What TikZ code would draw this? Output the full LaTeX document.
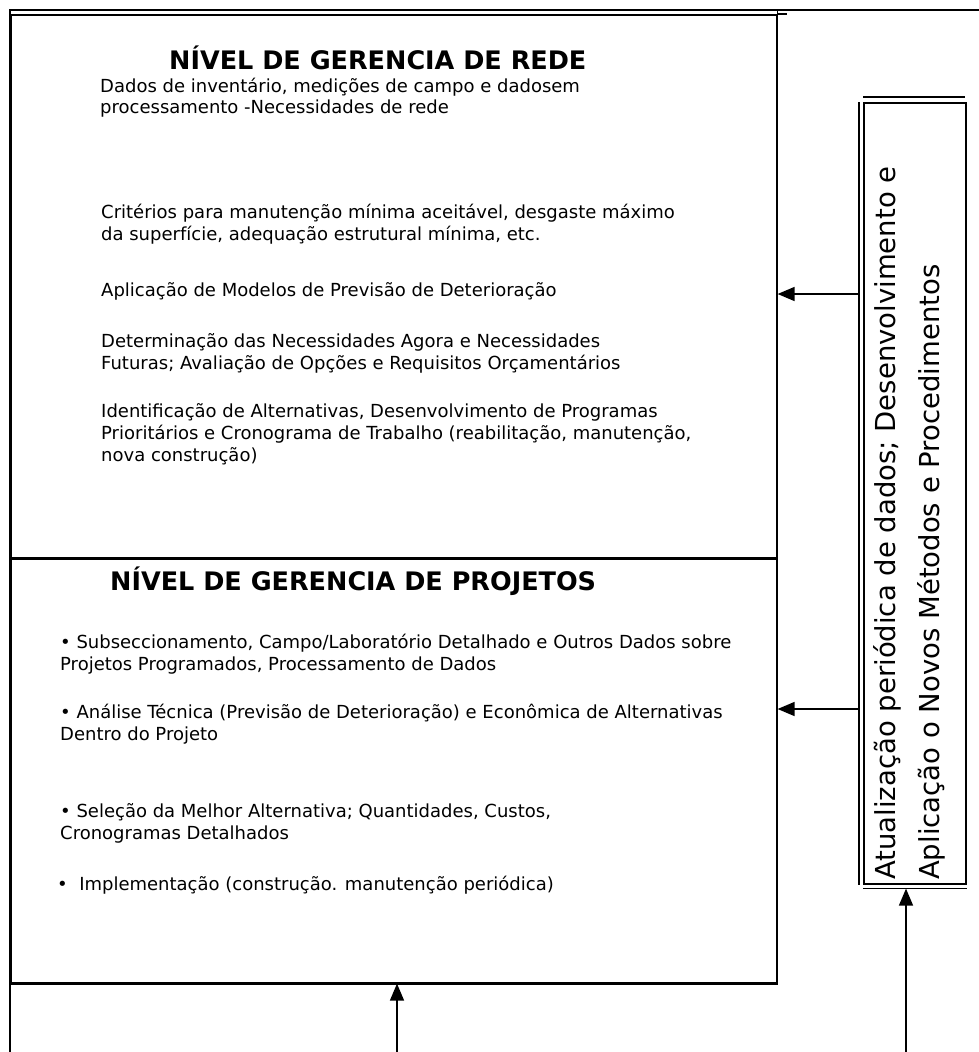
\documentclass[tikz,border=0pt]{standalone}
\usepackage{fontspec}
\setmainfont{DejaVu Sans}
\usetikzlibrary{arrows.meta,positioning}
\tikzset{
	frame/.style={draw, line width=1.6pt, inner sep=0pt, anchor=north west},
	arr/.style={line width=1.5pt, -{Triangle[length=17pt,width=14pt]}},
	heading/.style={font=\fontsize{25.5}{30}\selectfont\bfseries, anchor=west, inner sep=0pt},
	body/.style={font=\fontsize{18}{22}\selectfont, align=left, anchor=north west, inner sep=0pt},
	vtext/.style={rotate=90, anchor=north west, align=left, inner sep=0pt, font=\fontsize{27.5}{44}\selectfont}
}
\begin{document}
\begin{tikzpicture}[x=1pt,y=-1pt]
		\useasboundingbox (0,0) rectangle (979,1052);
		
		%Outer frame
		\draw[line width=1.6pt] (979,10) -- (10,10) -- (10,1052);
		
		%Network level
		\node[frame, minimum width=766pt, minimum height=544pt] (rede) at (10,14) {};
		\draw[line width=1.6pt] (rede.north east) -- ++(0,-4);
		\draw[line width=1.6pt] (rede.north east) -- ++(9,0);
		\node[heading] (t1) at (169,58) {NÍVEL DE GERENCIA DE REDE};
		\node[body, font=\fontsize{18}{21}\selectfont] (d1) at (100,78) {Dados de inventário, medições de campo e dadosem\\processamento -Necessidades de rede};
		\node[body] (d2) at (101,204) {Critérios para manutenção mínima aceitável, desgaste máximo\\da superfície, adequação estrutural mínima, etc.};
		\node[body] (d3) at (101,282) {Aplicação de Modelos de Previsão de Deterioração};
		\node[body] (d4) at (101,333) {Determinação das Necessidades Agora e Necessidades\\Futuras; Avaliação de Opções e Requisitos Orçamentários};
		\node[body] (d5) at (101,403) {Identificação de Alternativas, Desenvolvimento de Programas\\Prioritários e Cronograma de Trabalho (reabilitação, manutenção,\\nova construção)};
		
		%Project level
		\node[frame, minimum width=766pt, minimum height=424pt] (proj) at (10,558) {};
		\draw[line width=2.6pt] (proj.north west) -- (proj.north east);
		\draw[line width=2.6pt] (proj.south west) -- (proj.south east);
		\node[heading] (t2) at (110,581) {NÍVEL DE GERENCIA DE PROJETOS};
		\node[body] (p1) at (60,634) {• Subseccionamento, Campo/Laboratório Detalhado e Outros Dados sobre\\Projetos Programados, Processamento de Dados};
		\node[body] (p2) at (60,704) {• Análise Técnica (Previsão de Deterioração) e Econômica de Alternativas\\Dentro do Projeto};
		\node[body] (p3) at (60,803) {• Seleção da Melhor Alternativa; Quantidades, Custos,\\Cronogramas Detalhados};
		\node[body] (p4) at (57,876) {•\ \ Implementação (construção. manutenção periódica)};
		
		%Update box
		\node[frame, minimum width=102pt, minimum height=781pt] (upd) at (863,102) {};
		\draw[line width=1.6pt] ([xshift=-4pt]upd.north west) -- ([xshift=-4pt]upd.south west);
		\draw[line width=1.6pt] ([yshift=5pt]upd.north west) -- ([yshift=5pt,xshift=-2pt]upd.north east);
		\draw[line width=1.6pt] ([yshift=-4pt]upd.south west) -- ([yshift=-4pt]upd.south east);
		\node[vtext] (u0) at (873,880) {Atualização periódica de dados; Desenvolvimento e\\Aplicação o Novos Métodos e Procedimentos};
		
		%Arrows
		\coordinate (u1) at (859,294);
		\coordinate (u2) at (859,709);
		\coordinate (f1) at (397,1052);
		\coordinate (f2) at (906,1052);
		\draw[arr] (u1) -- (u1 -| rede.east);
		\draw[arr] (u2) -- (u2 -| proj.east);
		\draw[arr] (f1) -- (f1 |- proj.south);
		\draw[arr, shorten >=4pt] (f2) -- (f2 |- upd.south);
\end{tikzpicture}
\end{document}
